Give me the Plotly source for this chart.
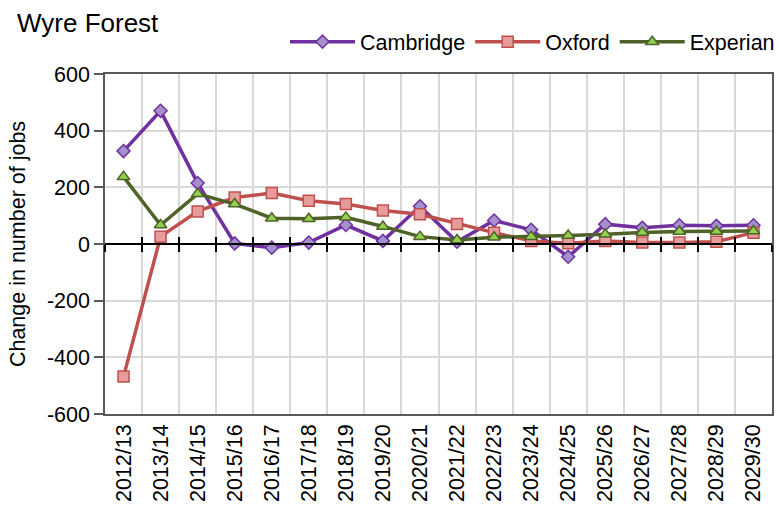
import plotly.graph_objects as go

categories = ["2012/13", "2013/14", "2014/15", "2015/16", "2016/17", "2017/18",
              "2018/19", "2019/20", "2020/21", "2021/22", "2022/23", "2023/24",
              "2024/25", "2025/26", "2026/27", "2027/28", "2028/29", "2029/30"]
cambridge = [328, 470, 215, 2, -13, 5, 67, 11, 133, 8, 83, 50, -45, 70, 57, 66, 64, 66]
oxford = [-468, 26, 115, 164, 180, 153, 141, 118, 105, 71, 40, 11, 3, 11, 5, 5, 8, 40]
experian = [237, 67, 177, 141, 91, 89, 94, 62, 26, 14, 24, 26, 30, 34, 41, 44, 44, 46]
y_ticks = [-600, -400, -200, 0, 200, 400, 600]
y_tick_labels = ["-600", "-400", "-200", "0", "200", "400", "600"]

FONT = "Liberation Sans, Arial, sans-serif"
FS = 21.5

fig = go.Figure()
series = [
    ("Cambridge", cambridge, "#7030A0", "#A390CC", "diamond", 10),
    ("Oxford", oxford, "#C0504D", "#E59C9B", "square", 11),
    ("Experian", experian, "#4F6228", "#92D050", "triangle-up", 11),
]
for name, vals, lc, fc, sym, sz in series:
    fig.add_trace(go.Scatter(
        x=categories, y=vals, name=name, mode="lines+markers",
        line=dict(color=lc, width=3.5),
        marker=dict(symbol=sym, size=sz, color=fc, line=dict(color=lc, width=1.5)),
    ))

# invisible traces to activate overlay axes used for the zero-line cross ticks
for ax in ("x2", "x3"):
    fig.add_trace(go.Scatter(x=categories, y=[None] * len(categories), xaxis=ax,
                             showlegend=False, hoverinfo="skip"))

fig.update_layout(
    width=778, height=512,
    margin=dict(l=105, r=6, t=74, b=98, autoexpand=False),
    paper_bgcolor="white", plot_bgcolor="white",
    font=dict(family=FONT, size=FS, color="#000000"),
    title=dict(text="Wyre Forest", x=17 / 778, xanchor="left", xref="container",
               y=1 - 23 / 512, yanchor="middle", yref="container",
               font=dict(family=FONT, size=26, color="#000000")),
    showlegend=True,
    legend=dict(orientation="h", x=1.012, xanchor="right", y=1.095, yanchor="middle",
                font=dict(family=FONT, size=FS, color="#000000"),
                bgcolor="rgba(0,0,0,0)", itemwidth=65, tracegroupgap=0),
    xaxis=dict(type="category", tickson="boundaries", showgrid=True, gridcolor="#D9D9D9",
               gridwidth=1.5, ticks="", tickangle=-90, showline=True, linecolor="#595959",
               linewidth=1.5, mirror=True, tickfont=dict(family=FONT, size=FS, color="#000000"),
               range=[-0.5, 17.5], automargin=False),
    xaxis2=dict(type="category", overlaying="x", anchor="free", position=0.5, side="bottom",
                tickson="boundaries", ticks="outside", ticklen=7, tickcolor="#000000",
                tickwidth=1.5, showticklabels=False, showgrid=False, showline=True,
                linecolor="#000000", linewidth=1.5, range=[-0.5, 17.5], matches="x"),
    xaxis3=dict(type="category", overlaying="x", anchor="free", position=0.5, side="bottom",
                tickson="boundaries", ticks="inside", ticklen=7, tickcolor="#000000",
                tickwidth=1.5, showticklabels=False, showgrid=False, showline=False,
                range=[-0.5, 17.5], matches="x"),
    yaxis=dict(range=[-600, 600], tickvals=y_ticks, ticktext=y_tick_labels,
               showgrid=True, gridcolor="#D9D9D9", automargin=False,
               gridwidth=1.5, zeroline=False, ticks="outside", ticklen=9, tickcolor="#595959",
               tickwidth=1.5, showline=True, linecolor="#595959", linewidth=1.5, mirror=True,
               tickfont=dict(family=FONT, size=FS, color="#000000"),
               title=dict(text="Change in number of jobs", standoff=15,
                          font=dict(family=FONT, size=FS, color="#000000"))),
)

fig.write_html("out.html", config={"displayModeBar": False},
               post_script="document.body.style.margin='0px';document.body.style.overflow='hidden';")
